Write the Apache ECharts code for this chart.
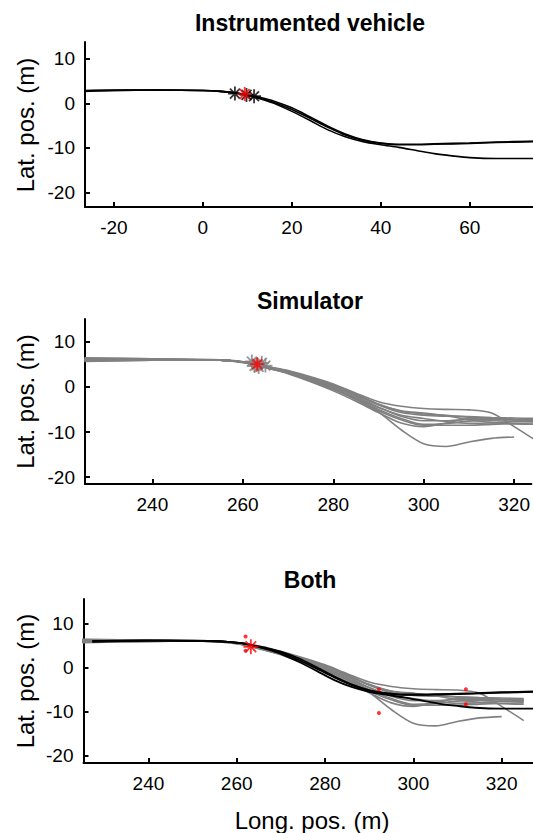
<!DOCTYPE html>
<html><head><meta charset="utf-8">
<script src="https://cdn.jsdelivr.net/npm/echarts@6/dist/echarts.min.js"></script>
<style>html,body{margin:0;padding:0;background:#fff}#c{width:533px;height:833px}</style>
</head><body><div id="c"></div>
<script>
// ---------- Data ----------
const titles = ['Instrumented vehicle', 'Simulator', 'Both'];
const yLabel = 'Lat. pos. (m)';
const xLabel = 'Long. pos. (m)';
const yTicks = [-20, -10, 0, 10];
const xTicks1 = [-20, 0, 20, 40, 60];
const xTicks23 = [240, 260, 280, 300, 320];

// Instrumented vehicle runs (panel 1)
const instX = [-26.5, -20, -10, 0, 4, 7, 10, 13, 16, 20, 24, 28, 32, 36, 40, 44, 48, 52, 56, 60, 66, 74.5];
const instA = [2.8, 2.9, 3.0, 2.9, 2.7, 2.4, 1.8, 1.1, 0.2, -1.4, -3.3, -5.3, -7.1, -8.3, -9.0, -9.3, -9.3, -9.2, -9.1, -9.0, -8.8, -8.6];
const instB = [2.7, 2.9, 3.0, 2.9, 2.7, 2.4, 1.8, 1.0, 0.0, -1.8, -3.8, -5.9, -7.5, -8.6, -9.3, -9.9, -10.6, -11.3, -11.8, -12.2, -12.4, -12.4];
const instC = [2.9, 3.0, 3.0, 2.9, 2.7, 2.4, 1.9, 1.3, 0.5, -1.0, -3.0, -5.1, -6.9, -8.2, -8.9, -9.2, -9.2, -9.1, -9.0, -8.9, -8.7, -8.5];
const instStarX = [7.2, 11.5, 9.8];
const instStarY = [2.2, 1.6, 1.9];
const instRedStar = [9.4, 2.1];

// Simulator runs (panels 2 and 3)
const simX = [225, 240, 250, 255, 258, 261, 263, 266, 270, 275, 280, 285, 290, 295, 300, 305, 310, 315, 320, 325];
const sim1 = [6.3, 6.2, 6.1, 6.0, 5.8, 5.4, 5.0, 4.4, 3.6, 2.2, 0.6, -1.4, -3.3, -4.3, -4.8, -5.0, -5.1, -5.8, -8.8, -12.0];
const sim2 = [5.7, 5.9, 6.0, 5.9, 5.7, 5.3, 4.9, 4.2, 3.2, 1.5, -0.4, -2.8, -5.6, -9.5, -12.6, -13.2, -12.2, -11.4, -11.1, null];
const sim3 = [6.4, 6.2, 6.0, 5.9, 5.7, 5.4, 5.0, 4.3, 3.4, 1.9, 0.2, -1.8, -4.0, -5.7, -6.3, -6.5, -6.6, -6.8, -6.9, -7.0];
const sim4 = [5.6, 5.9, 6.0, 5.9, 5.7, 5.3, 4.9, 4.2, 3.3, 1.7, -0.1, -2.1, -4.5, -6.5, -7.5, -7.5, -7.2, -7.2, -7.3, -7.3];
const sim5 = [6.0, 6.0, 6.0, 5.9, 5.7, 5.3, 4.9, 4.1, 3.1, 1.4, -0.5, -2.6, -5.0, -7.0, -8.3, -8.1, -7.6, -7.5, -7.6, -7.7];
const sim6 = [6.2, 6.1, 6.0, 5.9, 5.6, 5.2, 4.8, 4.0, 3.0, 1.3, -0.6, -2.8, -5.3, -7.3, -8.5, -8.5, -8.5, -8.3, -8.1, -8.0];
const sim7 = [5.8, 5.9, 6.0, 5.9, 5.7, 5.4, 5.0, 4.3, 3.5, 2.0, 0.4, -1.6, -3.8, -5.4, -6.0, -6.3, -6.7, -7.0, -7.2, -7.3];
const sim8 = [6.0, 6.0, 6.0, 5.9, 5.7, 5.3, 4.8, 4.0, 2.9, 1.1, -0.9, -3.2, -5.7, -8.0, -8.8, -8.0, -7.0, -6.9, -7.2, -7.5];
const sim9 = [6.1, 6.1, 6.0, 5.9, 5.7, 5.3, 4.9, 4.2, 3.2, 1.6, -0.3, -2.4, -4.6, -6.3, -7.0, -7.7, -8.1, -8.0, -7.7, -7.5];
const sim10 = [5.9, 6.0, 6.0, 5.9, 5.7, 5.4, 5.0, 4.3, 3.4, 1.9, 0.3, -1.7, -3.9, -5.3, -5.8, -6.4, -7.3, -7.9, -8.2, -8.3];
const simStarX = [262.0, 263.0, 264.2, 265.0, 263.5, 262.6];
const simStarY = [5.6, 4.8, 5.3, 4.7, 4.4, 4.6];
const simRedStar = [263.2, 5.0];

// Instrumented vehicle runs placed in simulator frame (panel 3)
const bothX = [227.3, 234, 244, 254, 258, 261, 264, 267, 270, 274, 278, 282, 286, 290, 294, 298, 302, 306, 310, 314, 320, 328.3];
const bothA = [5.9, 6.0, 6.1, 6.0, 5.8, 5.5, 4.9, 4.2, 3.3, 1.7, -0.2, -2.2, -4.0, -5.2, -5.9, -6.2, -6.2, -6.1, -6.0, -5.9, -5.7, -5.5];
const bothB = [5.8, 6.0, 6.1, 6.0, 5.8, 5.5, 4.9, 4.1, 3.1, 1.3, -0.7, -2.8, -4.4, -5.5, -6.2, -6.8, -7.5, -8.2, -8.7, -9.1, -9.3, -9.3];
const bothC = [6.0, 6.1, 6.1, 6.0, 5.8, 5.5, 5.0, 4.4, 3.6, 2.1, 0.1, -2.0, -3.8, -5.1, -5.8, -6.1, -6.1, -6.0, -5.9, -5.8, -5.6, -5.4];
const bothRedStar = [263.2, 4.7];
const dotX = [262.0, 262.0, 292.2, 292.2, 311.9, 311.9];
const dotY = [7.0, 3.8, -4.9, -10.3, -4.9, -8.3];

// ---------- Build ----------
const FONT = '"Liberation Sans", Arial, sans-serif';
const pair = (xs, ys) => xs.map((x, i) => [x, ys[i]]);
const simRuns = [sim1, sim2, sim3, sim4, sim5, sim6, sim7, sim8, sim9, sim10];
const instRuns = [instA, instB, instC];
const bothRuns = [bothA, bothB, bothC];
const STAR = 'path://M0,-10L0,10M-10,0L10,0M-7.07,-7.07L7.07,7.07M-7.07,7.07L7.07,-7.07';

const grids = [
  {left: 85, top: 42, right: 0, height: 165},
  {left: 85, top: 319, right: 0, height: 165},
  {left: 83.5, top: 599, right: 0, height: 164}
];
const xRanges = [[-26.5, 74.2], [225.1, 323.8], [225.3, 327.1]];
const yRanges = [[-23.3, 13.8], [-21.5, 15.0], [-21.6, 15.5]];
const xTickSets = [xTicks1, xTicks23, xTicks23];

function axisCommon(ticks) {
  return {
    axisLine: {show: true, onZero: false, lineStyle: {color: '#000', width: 2}},
    axisTick: {show: true, inside: true, length: 5, customValues: ticks, lineStyle: {color: '#000', width: 2}},
    splitLine: {show: false}
  };
}
const xAxes = grids.map((g, i) => Object.assign({type: 'value', gridIndex: i, min: xRanges[i][0], max: xRanges[i][1]}, axisCommon(xTickSets[i]), {
  axisLabel: {customValues: xTickSets[i], color: '#000', fontSize: 19, fontFamily: FONT, margin: 11}
}));
const yAxes = grids.map((g, i) => Object.assign({type: 'value', gridIndex: i, min: yRanges[i][0], max: yRanges[i][1]}, axisCommon(yTicks), {
  axisLabel: {customValues: yTicks, color: '#000', fontSize: 19, fontFamily: FONT, margin: 10}
}));

const series = [];
function addLine(i, xs, ys, color, w) {
  series.push({type: 'line', xAxisIndex: i, yAxisIndex: i, data: pair(xs, ys), showSymbol: false, symbol: 'none',
    smooth: 0.3, connectNulls: false, lineStyle: {color: color, width: w}, clip: true, silent: true});
}
function addStars(i, pts, color, size, z) {
  series.push({type: 'scatter', xAxisIndex: i, yAxisIndex: i, data: pts, symbol: STAR, symbolSize: size, z: z,
    itemStyle: {color: 'rgba(0,0,0,0)', borderColor: color, borderWidth: 1.8}, silent: true});
}
// panel 1
instRuns.forEach(r => addLine(0, instX, r, '#000', 1.6));
addStars(0, pair(instStarX, instStarY), '#000', 14, 3);
addStars(0, [instRedStar], '#ff0000', 14, 4);
// panel 2
simRuns.forEach(r => addLine(1, simX, r, '#808080', 1.6));
addStars(1, pair(simStarX, simStarY), '#808080', 14, 3);
addStars(1, [simRedStar], '#ff0000', 14, 4);
// panel 3
simRuns.forEach(r => addLine(2, simX, r, '#808080', 1.6));
bothRuns.forEach(r => addLine(2, bothX, r, '#000', 1.8));
addStars(2, [bothRedStar], '#ff0000', 15, 4);
series.push({type: 'scatter', xAxisIndex: 2, yAxisIndex: 2, data: pair(dotX, dotY), symbol: 'circle', symbolSize: 4, z: 4,
  itemStyle: {color: '#ff0000'}, silent: true});

const titleY = [23, 300.5, 580];
const labelY = [125, 401.5, 681];
const graphic = [];
titles.forEach((t, i) => graphic.push({type: 'text', x: 310, y: titleY[i], style: {text: t, font: 'bold 23px ' + FONT, textAlign: 'center', textVerticalAlign: 'middle', fill: '#000'}}));
labelY.forEach(y => graphic.push({type: 'text', x: 25, y: y, rotation: Math.PI / 2, style: {text: yLabel, font: '24px ' + FONT, textAlign: 'center', textVerticalAlign: 'middle', fill: '#000'}}));
graphic.push({type: 'text', x: 312, y: 820, style: {text: xLabel, font: '24px ' + FONT, textAlign: 'center', textVerticalAlign: 'middle', fill: '#000'}});

const chart = echarts.init(document.getElementById('c'), null, {renderer: 'svg'});
chart.setOption({animation: false, grid: grids, xAxis: xAxes, yAxis: yAxes, series: series, graphic: graphic});
</script></body></html>
